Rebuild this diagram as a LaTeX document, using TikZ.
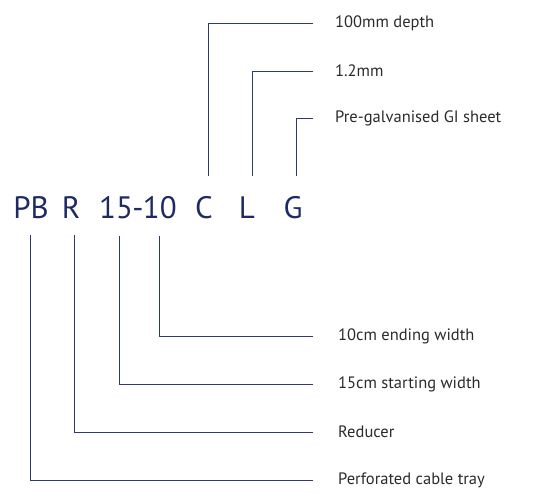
\documentclass[tikz,border=0pt]{standalone}
\usepackage{fontspec}
\setmainfont{PT Sans}
\usepackage{tikz}
\usetikzlibrary{positioning}
\definecolor{navy}{HTML}{1D2A63}
\definecolor{trait}{HTML}{2C3A6E}
\definecolor{texte}{HTML}{2B2B2B}
\tikzset{
  code/.style={inner sep=0pt, anchor=base, text=navy, font=\fontsize{31}{31}\selectfont},
  legende/.style={inner sep=0pt, anchor=west, text=texte, font=\fontsize{16.5}{18}\selectfont},
  renvoi/.style={draw=trait, line width=1pt, shorten >=22pt},
}

\begin{document}
\begin{tikzpicture}[x=1pt, y=-1pt]
  \useasboundingbox (0,0) rectangle (537,493);
  % le code
  \node[code] (pb) at (31,218) {PB};
  \node[code] (r) at (71,218) {R};
  \node[code] (quinze) at (116,218) {15};
  \node[code, right=-1pt of quinze.base east, anchor=base west] (tiret) {-};
  \node[code, right=-1pt of tiret.base east, anchor=base west] (dix) {10};
  \node[code] (c) at (204,218) {C};
  \node[code] (l) at (247,218) {L};
  \node[code] (g) at (293,218) {G};
  % en haut
  \node[legende] (prof) at (335,23) {100mm depth};
  \node[legende] (epais) at (335,71) {1.2mm};
  \node[legende] (tole) at (335,118) {Pre-galvanised GI sheet};
  % en bas
  \node[legende] (fin) at (338,336) {10cm ending width};
  \node[legende] (debut) at (338,384) {15cm starting width};
  \node[legende] (reduc) at (338,432) {Reducer};
  \node[legende] (tray) at (338,480) {Perforated cable tray};
  \draw[renvoi] ([xshift=4pt, yshift=20pt]c.north) |- (prof.west);
  \draw[renvoi] ([xshift=5pt, yshift=20pt]l.north) |- (epais.west);
  \draw[renvoi] ([xshift=3pt, yshift=20pt]g.north) |- (tole.west);
  \draw[renvoi, shorten >=25pt] ([yshift=-17pt]dix.south) |- (fin.west);
  \draw[renvoi, shorten >=25pt] ([xshift=3pt, yshift=-17pt]quinze.south) |- (debut.west);
  \draw[renvoi, shorten >=25pt] ([xshift=3pt, yshift=-17pt]r.south) |- (reduc.west);
  \draw[renvoi, shorten >=25pt] ([xshift=-1pt, yshift=-17pt]pb.south) |- (tray.west);
\end{tikzpicture}
\end{document}
